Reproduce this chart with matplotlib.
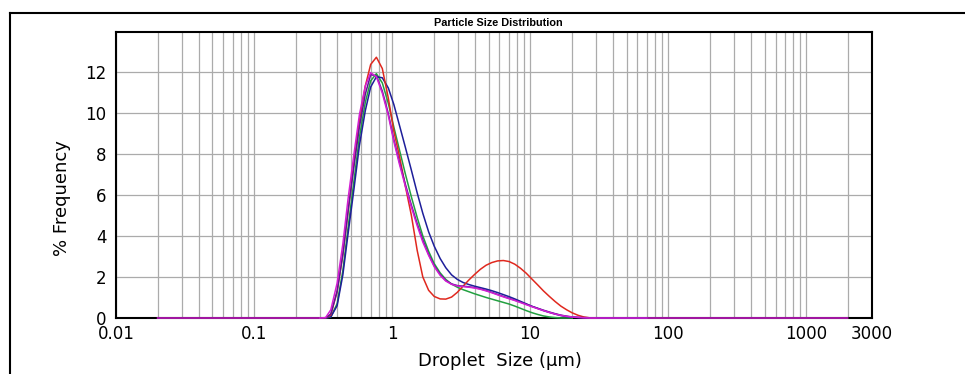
import numpy as np
import matplotlib
matplotlib.use("Agg")
import matplotlib.pyplot as plt
from matplotlib.lines import Line2D

nan = np.nan

# Droplet size bins (µm)
sizes = [0.02, 0.30, 0.33, 0.36, 0.40, 0.44, 0.48, 0.53, 0.58, 0.64, 0.70,
         0.77, 0.85, 0.94, 1.03, 1.13, 1.25, 1.38, 1.52, 1.67, 1.84, 2.02,
         2.23, 2.45, 2.70, 2.97, 3.27, 3.60, 3.96, 4.36, 4.80, 5.28, 5.81,
         6.40, 7.04, 7.75, 8.53, 9.38, 10.3, 11.4, 12.5, 13.8, 15.2, 16.7,
         18.4, 20.2, 22.3, 24.5, 27.0, 29.7, 35.0, 45.0, 70.0, 2000.0]

red = [nan, 0, 0, 0.15, 1.3, 3.1, 5.2, 7.6, 9.6, 11.3, 12.35,
       12.7, 12.15, 10.7, 9.1, 7.9, 6.4, 5.0, 3.3, 2.0, 1.35, 1.05,
       0.93, 0.92, 1.02, 1.25, 1.55, 1.85, 2.12, 2.37, 2.57, 2.70, 2.78,
       2.80, 2.75, 2.62, 2.42, 2.18, 1.90, 1.60, 1.32, 1.05, 0.80, 0.58,
       0.40, 0.25, 0.13, 0.05, 0.01, 0, nan, nan, nan, nan]

navy = [nan, 0, 0, 0.05, 0.6, 2.1, 4.1, 6.3, 8.4, 10.1, 11.25,
        11.75, 11.7, 11.2, 10.4, 9.4, 8.3, 7.2, 6.1, 5.1, 4.2, 3.5,
        2.9, 2.45, 2.1, 1.88, 1.73, 1.63, 1.55, 1.48, 1.41, 1.33, 1.24,
        1.14, 1.04, 0.93, 0.81, 0.69, 0.57, 0.46, 0.36, 0.27, 0.19, 0.12,
        0.07, 0.04, 0.02, 0.01, 0, 0, 0, 0, 0, nan]

green = [nan, 0, 0, 0.05, 0.7, 2.3, 4.4, 6.7, 8.8, 10.5, 11.55,
         11.9, 11.45, 10.45, 9.3, 8.2, 7.0, 5.9, 4.9, 4.0, 3.25, 2.65,
         2.2, 1.88, 1.65, 1.5, 1.38, 1.28, 1.18, 1.09, 1.0, 0.92, 0.84,
         0.76, 0.68, 0.58, 0.47, 0.36, 0.26, 0.17, 0.10, 0.05, 0.02, 0,
         0, 0, nan, nan, nan, nan, nan, nan, nan, nan]

purple = [nan, 0, 0, 0.2, 1.3, 3.1, 5.2, 7.4, 9.3, 10.9, 11.85,
          11.8, 11.05, 9.95, 8.7, 7.6, 6.5, 5.5, 4.6, 3.8, 3.1, 2.55,
          2.12, 1.83, 1.66, 1.58, 1.55, 1.52, 1.48, 1.42, 1.34, 1.25, 1.15,
          1.05, 0.96, 0.87, 0.77, 0.67, 0.57, 0.47, 0.38, 0.29, 0.21, 0.14,
          0.09, 0.05, 0.03, 0.02, 0.01, 0, 0, 0, 0, nan]

magenta = [0, 0, 0.02, 0.4, 1.7, 3.6, 5.8, 8.0, 9.9, 11.3, 11.95,
           11.75, 10.95, 9.85, 8.6, 7.5, 6.4, 5.4, 4.5, 3.7, 3.05, 2.5,
           2.08, 1.8, 1.64, 1.56, 1.53, 1.5, 1.46, 1.4, 1.32, 1.23, 1.13,
           1.03, 0.94, 0.85, 0.75, 0.65, 0.55, 0.45, 0.36, 0.27, 0.19, 0.13,
           0.08, 0.05, 0.03, 0.01, 0, 0, 0, 0, 0, 0]

series = [(green, "#22a040"), (navy, "#1e1e9a"), (red, "#e0281e"),
          (purple, "#5a1896"), (magenta, "#d21ed2")]

xtick_vals = [0.01, 0.1, 1, 10, 100, 1000, 3000]
xtick_labels = ["0.01", "0.1", "1", "10", "100", "1000", "3000"]
ytick_vals = [0, 2, 4, 6, 8, 10, 12]

W, H = 965, 374
fig = plt.figure(figsize=(W / 100, H / 100), dpi=100)
plt.rcParams['font.family'] = ['DejaVu Sans']

L, R, T, B = 116, 872, 32, 318
ax = fig.add_axes([L / W, 1 - B / H, (R - L) / W, (B - T) / H])
ax.set_xscale("log")
ax.set_xlim(0.01, 3000)
ax.set_ylim(0, 13.93)

# grid lines
minor = []
for e in range(-2, 4):
    for k in range(1, 10):
        v = k * 10.0 ** e
        if 0.01 < v < 3000:
            minor.append(v)
ax.set_xticks(minor, minor=True)
ax.set_xticks(xtick_vals)
ax.set_xticklabels(xtick_labels)
ax.set_yticks(ytick_vals)
ax.tick_params(axis="both", which="both", length=0, labelsize=12)
ax.tick_params(axis="x", pad=5)
ax.tick_params(axis="y", pad=7)
ax.xaxis.set_minor_formatter(plt.NullFormatter())
ax.grid(True, which="both", axis="x", color="#ababab", lw=0.9)
ax.grid(True, which="major", axis="y", color="#ababab", lw=0.9)
ax.set_axisbelow(True)
for s in ax.spines.values():
    s.set_linewidth(1.5)
    s.set_color("black")

x = np.array(sizes)
for vals, col in series:
    ax.plot(x, np.array(vals, dtype=float), color=col, lw=1.1, clip_on=False, zorder=3)

fig.text(498 / W, 1 - 23 / H, "Particle Size Distribution", fontsize=7.8,
         fontweight="bold", family="Liberation Sans", ha="center", va="center")
fig.text(500 / W, 1 - 361 / H, "Droplet  Size (µm)", fontsize=13,
         ha="center", va="center")
fig.text(62 / W, 1 - 198 / H, "% Frequency", fontsize=13, rotation=90,
         ha="center", va="center")

# outer frame
fig.add_artist(Line2D([10 / W, 10 / W], [0, 1 - 13 / H], color="black", lw=1.5))
fig.add_artist(Line2D([10 / W, 1], [1 - 13 / H, 1 - 13 / H], color="black", lw=1.5))

fig.savefig("out.png", dpi=100)
